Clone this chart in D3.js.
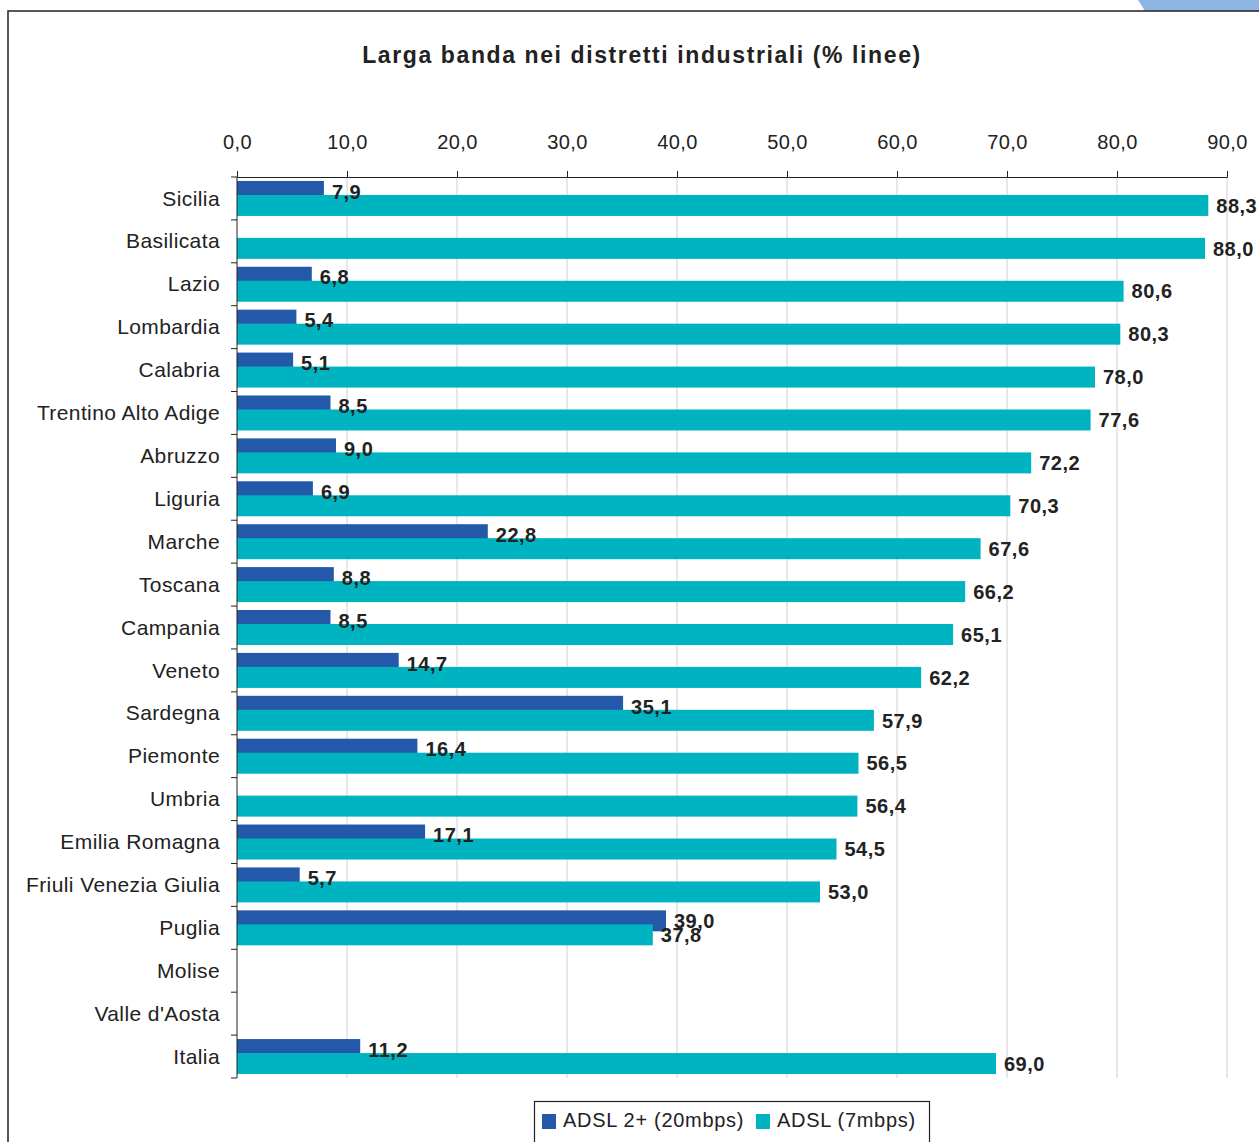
<!DOCTYPE html>
<html>
<head>
<meta charset="utf-8">
<script src="https://cdn.jsdelivr.net/npm/d3@7"></script>
<style>
  html, body { margin: 0; padding: 0; background: #fff; }
  svg { display: block; font-family: "Liberation Sans", Arial, sans-serif; }
</style>
</head>
<body>
<svg id="chart" width="1259" height="1142"></svg>
<script>
// Regions, in display order
const regions = ["Sicilia", "Basilicata", "Lazio", "Lombardia", "Calabria",
  "Trentino Alto Adige", "Abruzzo", "Liguria", "Marche", "Toscana", "Campania",
  "Veneto", "Sardegna", "Piemonte", "Umbria", "Emilia Romagna",
  "Friuli Venezia Giulia", "Puglia", "Molise", "Valle d'Aosta", "Italia"];

// ADSL 2+ (20mbps) share of lines, % (null = no coverage)
const adsl2plus = [7.9, null, 6.8, 5.4, 5.1, 8.5, 9.0, 6.9, 22.8, 8.8, 8.5,
  14.7, 35.1, 16.4, null, 17.1, 5.7, 39.0, null, null, 11.2];

// ADSL (7mbps) share of lines, %
const adsl7 = [88.3, 88.0, 80.6, 80.3, 78.0, 77.6, 72.2, 70.3, 67.6, 66.2, 65.1,
  62.2, 57.9, 56.5, 56.4, 54.5, 53.0, 37.8, null, null, 69.0];

const xTicks = [0, 10, 20, 30, 40, 50, 60, 70, 80, 90];
const seriesNames = ["ADSL 2+ (20mbps)", "ADSL (7mbps)"];
const seriesColors = ["#2459a9", "#00b3c1"];
const title = "Larga banda nei distretti industriali (% linee)";

const svg = d3.select("#chart");
const fmt = v => v.toFixed(1).replace(".", ",");

// Frame of the chart area and the corner decoration
svg.append("path")
  .attr("d", "M1138,0 L1259,0 L1259,11 L1145,11 Z")
  .attr("fill", "#8fb5e2");
svg.append("path")
  .attr("d", "M8,1142 L8,11 L1259,11")
  .attr("fill", "none").attr("stroke", "#222").attr("stroke-width", 1.5);

// Title
svg.append("text")
  .attr("x", 642).attr("y", 63)
  .attr("text-anchor", "middle")
  .attr("font-size", 23).attr("font-weight", "bold")
  .attr("letter-spacing", 1.6)
  .attr("fill", "#222")
  .text(title);

const plot = { left: 237, right: 1227, top: 177, bottom: 1078 };

const x = d3.scaleLinear().domain([0, 90]).range([plot.left, plot.right]);
const y = d3.scaleBand().domain(regions).range([plot.top, plot.bottom]);

// Gridlines
svg.append("g")
  .selectAll("line")
  .data(xTicks.filter(t => t > 0))
  .join("line")
  .attr("x1", d => x(d)).attr("x2", d => x(d))
  .attr("y1", plot.top).attr("y2", plot.bottom)
  .attr("stroke", "#d0d0d0").attr("stroke-width", 1);

// Top value axis
const xAxis = svg.append("g")
  .attr("transform", `translate(0,${plot.top})`)
  .call(d3.axisTop(x).tickValues(xTicks).tickFormat(fmt).tickSize(6).tickPadding(22));
xAxis.select(".domain").attr("stroke", "#222");
xAxis.selectAll(".tick line").attr("stroke", "#222");
xAxis.selectAll("text").attr("font-size", 20).attr("fill", "#222")
  .attr("letter-spacing", 0.4)
  .attr("font-family", "Liberation Sans, Arial, sans-serif");

// Bars: two series per band, partially overlapping
const barH = 21;
const offset = 14;
const bandPad = (y.bandwidth() - (offset + barH)) / 2;

const series = [adsl2plus, adsl7];
series.forEach((vals, si) => {
  const data = regions.map((r, i) => ({ r, v: vals[i] })).filter(d => d.v != null);
  const g = svg.append("g");
  g.selectAll("rect")
    .data(data)
    .join("rect")
    .attr("x", x(0))
    .attr("y", d => y(d.r) + bandPad + si * offset)
    .attr("width", d => x(d.v) - x(0))
    .attr("height", barH)
    .attr("fill", seriesColors[si]);
});

// Value labels, drawn above all bars
series.forEach((vals, si) => {
  const data = regions.map((r, i) => ({ r, v: vals[i] })).filter(d => d.v != null);
  svg.append("g")
    .selectAll("text")
    .data(data)
    .join("text")
    .attr("x", d => x(d.v) + 8)
    .attr("y", d => y(d.r) + bandPad + si * offset + barH / 2)
    .attr("dy", "0.36em")
    .attr("font-size", 20).attr("font-weight", "bold")
    .attr("letter-spacing", 0.5)
    .attr("fill", "#222")
    .text(d => fmt(d.v));
});

// Category axis with ticks at band boundaries
const yAxisG = svg.append("g");
yAxisG.append("line")
  .attr("x1", plot.left).attr("x2", plot.left)
  .attr("y1", plot.top).attr("y2", plot.bottom)
  .attr("stroke", "#222");
const bounds = regions.map(r => y(r)).concat([plot.bottom]);
yAxisG.selectAll("line.tk")
  .data(bounds)
  .join("line").attr("class", "tk")
  .attr("x1", plot.left - 6).attr("x2", plot.left)
  .attr("y1", d => d).attr("y2", d => d)
  .attr("stroke", "#222");
yAxisG.selectAll("text")
  .data(regions)
  .join("text")
  .attr("x", 220)
  .attr("y", d => y(d) + y.bandwidth() / 2)
  .attr("dy", "0.34em")
  .attr("text-anchor", "end")
  .attr("font-size", 21)
  .attr("letter-spacing", 0.4)
  .attr("fill", "#222")
  .text(d => d);

// Legend
const legend = svg.append("g");
legend.append("rect")
  .attr("x", 534.5).attr("y", 1101.5).attr("width", 395).attr("height", 50)
  .attr("fill", "#fff").attr("stroke", "#222").attr("stroke-width", 1.2);
const legendX = [542, 756];
seriesNames.forEach((name, i) => {
  legend.append("rect")
    .attr("x", legendX[i]).attr("y", 1114).attr("width", 14).attr("height", 15)
    .attr("fill", seriesColors[i]);
  legend.append("text")
    .attr("x", legendX[i] + 21).attr("y", 1127)
    .attr("font-size", 20).attr("fill", "#222")
    .attr("letter-spacing", 0.7)
    .text(name);
});
</script>
</body>
</html>
